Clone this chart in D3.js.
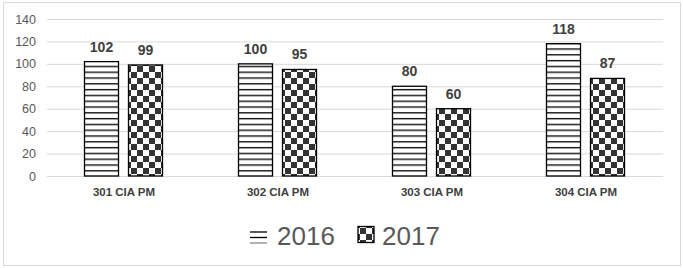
<!DOCTYPE html>
<html>
<head>
<meta charset="utf-8">
<script src="https://cdn.jsdelivr.net/npm/d3@7"></script>
<style>
  body { margin: 0; background: #fff; }
  svg { display: block; font-family: "Liberation Sans", Arial, sans-serif; }
</style>
</head>
<body>
<div id="chart"></div>
<script>
const categories = ["301 CIA PM", "302 CIA PM", "303 CIA PM", "304 CIA PM"];
const years = ["2016", "2017"];
const values2016 = [102, 100, 80, 118];
const values2017 = [99, 95, 60, 87];
const yTicks = [0, 20, 40, 60, 80, 100, 120, 140];

const width = 683;
const height = 268;
const marginLeft = 47;
const marginRight = 20;
const plotTop = 19;
const plotBottom = 176;

const data = categories.map((c, i) => ({
  category: c,
  values: [
    { year: years[0], value: values2016[i] },
    { year: years[1], value: values2017[i] }
  ]
}));

const x = d3
  .scaleBand()
  .domain(categories)
  .range([marginLeft, width - marginRight]);

const xInner = d3
  .scaleBand()
  .domain(years)
  .range([x.bandwidth() / 2 - 40, x.bandwidth() / 2 + 39])
  .paddingInner(0.2045);

const y = d3.scaleLinear().domain([0, 140]).range([plotBottom, plotTop]);

const svg = d3
  .create("svg")
  .attr("width", width)
  .attr("height", height)
  .attr("viewBox", [0, 0, width, height]);

// patterns
const defs = svg.append("defs");

const stripes = defs
  .append("pattern")
  .attr("id", "stripes")
  .attr("patternUnits", "userSpaceOnUse")
  .attr("width", 8)
  .attr("height", 5.8);
stripes.append("rect").attr("width", 8).attr("height", 5.8).attr("fill", "#fff");
stripes
  .append("rect")
  .attr("y", 2)
  .attr("width", 8)
  .attr("height", 1.3)
  .attr("fill", "#000");

const checks = defs
  .append("pattern")
  .attr("id", "checks")
  .attr("patternUnits", "userSpaceOnUse")
  .attr("width", 12)
  .attr("height", 12);
checks.append("rect").attr("width", 12).attr("height", 12).attr("fill", "#fff");
checks.append("rect").attr("width", 6).attr("height", 6).attr("fill", "#333");
checks
  .append("rect")
  .attr("x", 6)
  .attr("y", 6)
  .attr("width", 6)
  .attr("height", 6)
  .attr("fill", "#333");

const fillFor = { "2016": "url(#stripes)", "2017": "url(#checks)" };

// outer border
svg
  .append("rect")
  .attr("x", 3.5)
  .attr("y", 2.5)
  .attr("width", 677)
  .attr("height", 263)
  .attr("fill", "none")
  .attr("stroke", "#d9d9d9");

// gridlines + y labels
svg
  .append("g")
  .attr("transform", `translate(${marginLeft},0)`)
  .call(
    d3
      .axisLeft(y)
      .tickValues(yTicks)
      .tickSize(-(width - marginLeft - marginRight))
      .tickPadding(11)
  )
  .call((g) => g.select(".domain").remove())
  .call((g) => g.selectAll("line").attr("stroke", "#d9d9d9"))
  .call((g) =>
    g
      .selectAll("text")
      .attr("fill", "#595959")
      .attr("font-size", 12.5)
      .attr("font-family", "Liberation Sans, Arial, sans-serif")
  );

// x labels
svg
  .append("g")
  .attr("transform", `translate(0,${plotBottom})`)
  .call(d3.axisBottom(x).tickSize(0).tickPadding(12))
  .call((g) => g.select(".domain").remove())
  .call((g) =>
    g
      .selectAll("text")
      .attr("fill", "#404040")
      .attr("font-size", 11.5)
      .attr("font-weight", "bold")
      .attr("font-family", "Liberation Sans, Arial, sans-serif")
  );

const group = svg
  .append("g")
  .selectAll("g")
  .data(data)
  .join("g")
  .attr("transform", (d) => `translate(${x(d.category)},0)`);

group
  .selectAll("rect")
  .data((d) => d.values)
  .join("rect")
  .attr("x", (d) => xInner(d.year) + 0.5)
  .attr("y", (d) => y(d.value))
  .attr("width", xInner.bandwidth() - 1)
  .attr("height", (d) => y(0) - y(d.value))
  .attr("fill", (d) => fillFor[d.year])
  .attr("stroke", "#000")
  .attr("stroke-width", 1.3);

group
  .selectAll("text.value")
  .data((d) => d.values)
  .join("text")
  .attr("class", "value")
  .attr("x", (d) => xInner(d.year) + xInner.bandwidth() / 2)
  .attr("y", (d) => y(d.value) - 10)
  .attr("text-anchor", "middle")
  .attr("fill", "#404040")
  .attr("font-size", 14)
  .attr("font-weight", "bold")
  .text((d) => d.value);

// legend
const legend = svg.append("g");

const leg2016 = legend.append("g").attr("transform", "translate(250,0)");
[232, 237.5, 243].forEach((yy, i) => {
  leg2016
    .append("line")
    .attr("x1", 0)
    .attr("x2", 17)
    .attr("y1", yy)
    .attr("y2", yy)
    .attr("stroke", i === 2 ? "#888" : "#000")
    .attr("stroke-width", 1.3);
});
legend
  .append("text")
  .attr("x", 277)
  .attr("y", 245)
  .attr("font-size", 26)
  .attr("fill", "#595959")
  .text(years[0]);

legend
  .append("rect")
  .attr("x", 358)
  .attr("y", 226.5)
  .attr("width", 16)
  .attr("height", 16)
  .attr("fill", "url(#checks)")
  .attr("stroke", "#000")
  .attr("stroke-width", 1.3);
legend
  .append("text")
  .attr("x", 382)
  .attr("y", 245)
  .attr("font-size", 26)
  .attr("fill", "#595959")
  .text(years[1]);

document.getElementById("chart").append(svg.node());
</script>
</body>
</html>
